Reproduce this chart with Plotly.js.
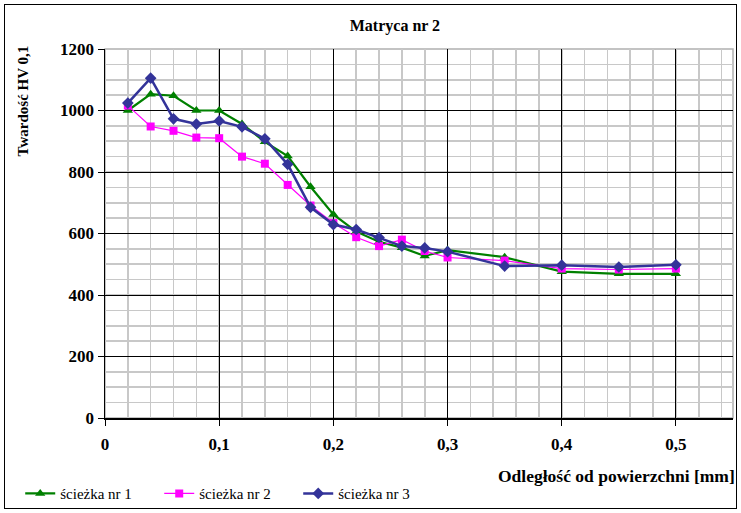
<!DOCTYPE html>
<html>
<head>
<meta charset="utf-8">
<script src="https://cdn.plot.ly/plotly-3.0.1.min.js"></script>
<style>
html,body{margin:0;padding:0;background:#fff;}
#wrap{position:relative;width:741px;height:513px;}
#chart{width:741px;height:513px;}
#frame{position:absolute;left:4px;top:4px;width:731px;height:503px;border:1.5px solid #000;pointer-events:none;}
</style>
</head>
<body>
<div id="wrap"><div id="chart"></div><div id="frame"></div></div>
<script>
const depth = [0.02, 0.04, 0.06, 0.08, 0.10, 0.12, 0.14, 0.16, 0.18, 0.20, 0.22, 0.24, 0.26, 0.28, 0.30, 0.35, 0.40, 0.45, 0.50];
const path1 = [1000, 1053, 1048, 1000, 1000, 956, 898, 852, 752, 662, 606, 573, 554, 527, 546, 523, 476, 469, 469];
const path2 = [1016, 948, 934, 912, 910, 850, 827, 758, 691, 634, 588, 559, 580, 543, 522, 512, 486, 483, 486];
const path3 = [1024, 1105, 973, 956, 966, 947, 908, 825, 685, 629, 613, 587, 559, 553, 541, 494, 497, 491, 498];
const seriesNames = ['ścieżka nr 1', 'ścieżka nr 2', 'ścieżka nr 3'];
const yTicks = [0, 200, 400, 600, 800, 1000, 1200];
const xTickVals = [0, 0.1, 0.2, 0.3, 0.4, 0.5];
const xTickText = ['0', '0,1', '0,2', '0,3', '0,4', '0,5'];

const serif = 'Liberation Serif, Times New Roman, serif';

const traces = [
  {x: depth, y: path1, name: seriesNames[0], type: 'scatter', mode: 'lines+markers',
   line: {color: '#008000', width: 2.2}, marker: {symbol: 'triangle-up', size: 9, color: '#008000'}},
  {x: depth, y: path2, name: seriesNames[1], type: 'scatter', mode: 'lines+markers',
   line: {color: '#FF00FF', width: 1.2}, marker: {symbol: 'square', size: 8, color: '#FF00FF'}},
  {x: depth, y: path3, name: seriesNames[2], type: 'scatter', mode: 'lines+markers',
   line: {color: '#333399', width: 2.5}, marker: {symbol: 'diamond', size: 9, color: '#333399'}}
];

const layout = {
  width: 741, height: 513,
  margin: {l: 105, r: 8, t: 49, b: 95, autoexpand: false},
  paper_bgcolor: '#fff', plot_bgcolor: '#fff',
  showlegend: true,
  title: {text: '<b>Matryca nr 2</b>', x: 0.533, xref: 'container', xanchor: 'center', y: 0.951, yanchor: 'middle',
          font: {family: serif, size: 16, color: '#000'}},
  xaxis: {
    range: [0, 0.55], tickvals: xTickVals, ticktext: xTickText,
    showgrid: true, gridcolor: '#000', gridwidth: 1,
    minor: {dtick: 0.02, tick0: 0, showgrid: true, gridcolor: '#c8c8c8', gridwidth: 1.6, ticks: ''},
    showline: true, linecolor: '#000', linewidth: 1.5,
    ticks: 'outside', ticklen: 6, tickcolor: '#000', tickwidth: 1,
    tickfont: {family: serif, size: 17, color: '#000', weight: 'bold'},
    zeroline: false, fixedrange: true, ticklabelstandoff: 4
  },
  yaxis: {
    range: [0, 1200], tickvals: yTicks, ticktext: yTicks.map(String),
    showgrid: true, gridcolor: '#000', gridwidth: 1,
    minor: {dtick: 50, tick0: 0, showgrid: true, gridcolor: '#c8c8c8', gridwidth: 1.6, ticks: ''},
    showline: true, linecolor: '#000', linewidth: 1.5,
    ticks: 'outside', ticklen: 6, tickcolor: '#000', tickwidth: 1,
    tickfont: {family: serif, size: 17, color: '#000', weight: 'bold'},
    zeroline: false, fixedrange: true
  },
  shapes: [
    {type: 'rect', xref: 'paper', yref: 'paper', x0: 0, x1: 1, y0: 0, y1: 1,
     line: {color: '#b0b0b0', width: 1.5}, layer: 'below'}
  ],
  annotations: [
    {text: '<b>Twardość HV 0,1</b>', xref: 'paper', yref: 'paper', x: -0.131, y: 0.86,
     xanchor: 'center', yanchor: 'middle', textangle: -90, showarrow: false,
     font: {family: serif, size: 15, color: '#000'}},
    {text: '<b>Odległość od powierzchni [mm]</b>', xref: 'paper', yref: 'paper', x: 1.006, y: -0.157,
     xanchor: 'right', yanchor: 'middle', showarrow: false,
     font: {family: serif, size: 17.5, color: '#000'}}
  ],
  legend: {orientation: 'h', x: -0.135, xanchor: 'left', y: -0.205, yanchor: 'middle',
           font: {family: serif, size: 15, color: '#000'}, bgcolor: 'rgba(0,0,0,0)',
           itemwidth: 30, tracegroupgap: 0, entrywidth: 94, entrywidthmode: 'pixels'}
};

Plotly.newPlot('chart', traces, layout, {displayModeBar: false, staticPlot: true});
</script>
</body>
</html>
